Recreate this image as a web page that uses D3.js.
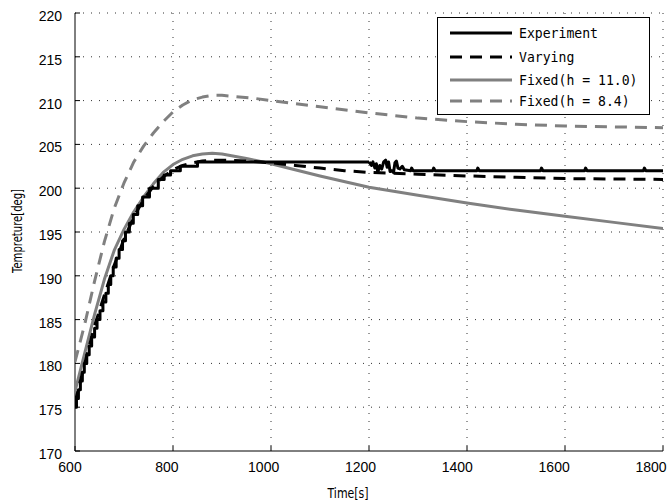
<!DOCTYPE html>
<html><head><meta charset="utf-8">
<script src="https://cdn.jsdelivr.net/npm/d3@7"></script>
<style>body{margin:0;background:#fff}svg{display:block}</style>
</head><body>
<svg id="c" width="672" height="504"></svg>
<script>
// ---- data ----
const xTicks = [600, 800, 1000, 1200, 1400, 1600, 1800];
const yTicks = [170, 175, 180, 185, 190, 195, 200, 205, 210, 215, 220];
const seriesNames = ["Experiment", "Varying", "Fixed(h = 11.0)", "Fixed(h = 8.4)"];

// Experiment (quantized, stair-step rise then flat with a noisy stretch)
const expT = [600,603,607,611,615,619,624,629,634,640,645,651,657,663,668,673,678,684,690,697,703,711,719,728,738,752,770,782,795,815,850,
  1200,1205,1208,1212,1215,1218,1222,1226,1230,1234,1237,1240,1243,1247,1250,1253,1256,1259,1263,1268,1272,1285,1287,1290,1330,1332,1335,1420,1422,1425,1550,1552,1555,1640,1642,1645,1760,1762,1765,1800];
const expV = [175,176,177,178,179,180,181,182,183,184,185,186,187,188,189,190,191,192,193,194,195,196,197,198,199,200,201,201.5,202,202.5,203,
  203,202.6,203,202.3,202.8,201.8,202.6,202.2,203.0,203.2,202.4,203.0,201.9,202.0,201.8,202.9,203.1,202.3,202.2,202.5,202.1,202.0,202.3,202.0,202.0,202.3,202.0,202.0,202.3,202.0,202.0,202.3,202.0,202.0,202.3,202.0,202.0,202.3,202.0,202.0];

const varT = [600,620,640,660,680,700,720,740,760,780,800,820,840,860,880,900,950,1000,1050,1100,1150,1200,1250,1300,1400,1500,1600,1700,1800];
const varV = [175.5,180,184.3,187.8,191.2,194.2,196.7,198.7,200.2,201.3,202.1,202.6,202.9,203.1,203.2,203.2,203.1,202.9,202.6,202.3,202.0,201.8,201.7,201.6,201.4,201.25,201.1,201.05,201.0];

const h11T = [600,620,640,660,680,700,720,740,760,780,800,820,840,860,880,900,950,1000,1100,1200,1300,1400,1500,1600,1700,1800];
const h11V = [176.8,181.2,185.6,189.6,192.9,195.3,197.3,199.0,200.5,201.8,202.7,203.3,203.7,203.9,204.0,203.9,203.4,202.8,201.4,200.1,199.2,198.3,197.5,196.8,196.1,195.4];

const h84T = [600,620,640,660,680,700,720,740,760,780,800,820,840,860,880,900,920,960,1000,1100,1200,1300,1400,1500,1600,1700,1800];
const h84V = [180.2,184.5,189.4,193.9,197.7,200.6,203.0,204.8,206.3,207.6,208.7,209.5,210.1,210.4,210.6,210.6,210.5,210.3,210.0,209.3,208.6,208.0,207.6,207.3,207.1,207.0,206.9];

// ---- layout ----
const svg = d3.select("#c");
const L = 75, R = 663, T = 13, B = 451;
const x = d3.scaleLinear().domain([600, 1800]).range([L, R]);
const y = d3.scaleLinear().domain([170, 220]).range([B, T]);

// grid
const g = svg.append("g");
g.selectAll(".gx").data(xTicks.slice(1)).join("line")
  .attr("x1", d => x(d)).attr("x2", d => x(d)).attr("y1", T).attr("y2", B)
  .attr("stroke", "#333").attr("stroke-width", 1).attr("stroke-dasharray", "1,7");
g.selectAll(".gy").data(yTicks.slice(1)).join("line")
  .attr("x1", L).attr("x2", R).attr("y1", d => y(d)).attr("y2", d => y(d))
  .attr("stroke", "#333").attr("stroke-width", 1).attr("stroke-dasharray", "1,7");

// axes lines and inward ticks
svg.append("line").attr("x1", L).attr("x2", L).attr("y1", T).attr("y2", B).attr("stroke", "#000");
svg.append("line").attr("x1", L).attr("x2", R).attr("y1", B).attr("y2", B).attr("stroke", "#000");
svg.selectAll(".tx").data(xTicks).join("line")
  .attr("x1", d => x(d)).attr("x2", d => x(d)).attr("y1", B).attr("y2", B - 5).attr("stroke", "#000");
svg.selectAll(".ty").data(yTicks).join("line")
  .attr("x1", L).attr("x2", L + 5).attr("y1", d => y(d)).attr("y2", d => y(d)).attr("stroke", "#000");

// tick labels
const tf = "'Liberation Sans', Arial, sans-serif";
svg.selectAll(".lx").data(xTicks).join("text")
  .attr("x", d => x(d) - 5 - (d - 600) / 1200 * 7).attr("y", 472).attr("text-anchor", "middle")
  .attr("font-family", tf).attr("font-size", 14).text(d => d);
svg.selectAll(".ly").data(yTicks).join("text")
  .attr("x", 62).attr("y", d => y(d) + 8).attr("text-anchor", "end")
  .attr("font-family", tf).attr("font-size", 14).text(d => d);

// axis titles
svg.append("text").attr("x", 348).attr("y", 498).attr("text-anchor", "middle")
  .attr("font-family", "'DejaVu Sans', sans-serif").attr("font-size", 14)
  .attr("textLength", 41).attr("lengthAdjust", "spacingAndGlyphs").text("Time[s]");
svg.append("text").attr("transform", "translate(22,231) rotate(-90)").attr("text-anchor", "middle")
  .attr("font-family", "'DejaVu Sans', sans-serif").attr("font-size", 14)
  .attr("textLength", 84).attr("lengthAdjust", "spacingAndGlyphs").text("Tempreture[deg]");

// curves
const clip = svg.append("clipPath").attr("id", "pc").append("rect")
  .attr("x", L).attr("y", T).attr("width", R - L).attr("height", B - T);
const plot = svg.append("g").attr("clip-path", "url(#pc)");
const lin = d3.line().x(d => x(d[0])).y(d => y(d[1]));
const step = d3.line().x(d => x(d[0])).y(d => y(d[1])).curve(d3.curveStepAfter);
const zip = (a, b) => a.map((t, i) => [t, b[i]]);

const styles = [
  {c: "#000", w: 3, dash: null},
  {c: "#000", w: 3, dash: "12,8"},
  {c: "#808080", w: 3, dash: null},
  {c: "#808080", w: 3, dash: "12,8"}
];

function draw(path, s) {
  plot.append("path").attr("d", path).attr("fill", "none").attr("stroke", s.c)
    .attr("stroke-width", s.w).attr("stroke-dasharray", s.dash).attr("stroke-linejoin", "round");
}
draw(lin(zip(h84T, h84V)), styles[3]);
draw(lin(zip(h11T, h11V)), styles[2]);
const expPts = zip(expT, expV);
const split = expT.indexOf(1200);
draw(step(expPts.slice(0, split + 1)), styles[0]);
draw(lin(expPts.slice(split)), styles[0]);
draw(lin(zip(varT, varV)), styles[1]);

// legend
const lg = svg.append("g");
lg.append("rect").attr("x", 437.5).attr("y", 17.5).attr("width", 212).attr("height", 97)
  .attr("fill", "#fff").attr("stroke", "#000");
const ly = [33, 57, 80, 101];
seriesNames.forEach((n, i) => {
  lg.append("line").attr("x1", 450).attr("x2", 512).attr("y1", ly[i]).attr("y2", ly[i])
    .attr("stroke", styles[i].c).attr("stroke-width", styles[i].w).attr("stroke-dasharray", styles[i].dash);
  lg.append("text").attr("x", 519).attr("y", ly[i] + 5).attr("font-family", "'DejaVu Sans Mono', monospace")
    .attr("font-size", 14).attr("textLength", n.length * 7.9).attr("lengthAdjust", "spacingAndGlyphs").text(n);
});
</script>
</body></html>
